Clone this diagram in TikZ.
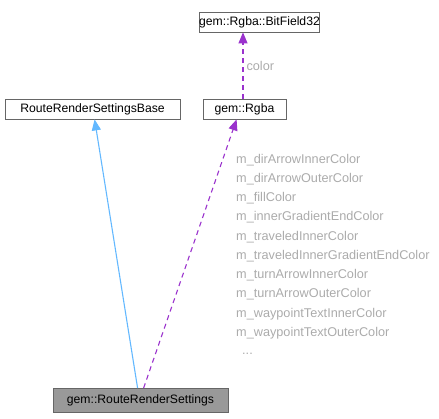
\documentclass[tikz,border=0pt]{standalone}
\usepackage{fontspec}
\setmainfont{Liberation Sans}
\usepackage{tikz}
\usetikzlibrary{arrows.meta,positioning,calc}
\usepackage{xcolor}
\definecolor{edgeblue}{HTML}{63B8FF}
\definecolor{edgepurple}{HTML}{9A32CD}
\definecolor{labelgray}{HTML}{ABABAB}
\definecolor{boxgray}{HTML}{999999}

\tikzset{
    classbox/.style={draw=black!60, fill=white, line width=0.8pt, inner sep=0pt,
        minimum height=20pt, font=\fontsize{12.2}{14}\selectfont},
    usedby/.style={edgepurple, line width=1.1pt, dash pattern=on 5pt off 4pt,
        -{Triangle[length=11pt,width=9pt]}},
    inherits/.style={edgeblue, line width=1.1pt, -{Triangle[length=11pt,width=9pt]}},
    memberlbl/.style={labelgray, anchor=west, inner sep=0pt, font=\fontsize{12.7}{14}\selectfont}
}

\begin{document}
\begin{tikzpicture}[x=1pt,y=-1pt]
    \useasboundingbox (0,0) rectangle (439,418);

    % Draw class boxes
    \node[classbox, minimum width=118pt] (bitfield) at (259.5,22) {gem::Rgba::BitField32};
    \node[classbox, minimum width=175pt] (base) at (92.5,109) {RouteRenderSettingsBase};
    \node[classbox, minimum width=83pt] (rgba) at (244.5,109) {gem::Rgba};
    \node[classbox, minimum width=175pt, minimum height=24pt, fill=boxgray] (settings) at (140.5,400.5) {gem::RouteRenderSettings};

    % Connectors
    \draw[usedby] (rgba.north -| 243,0) -- node[memberlbl, right=3pt] (colorlbl) {color} (bitfield.south -| 243,0);
    \draw[inherits] ($(settings.north west)+(85,0)$) -- ($(base.south west)+(90,0)$);
    \draw[usedby] ($(settings.north west)+(91,0)$) -- ($(rgba.south west)+(34,0)$);

    % Member labels
    \foreach \name [count=\i] in {m\_dirArrowInnerColor,m\_dirArrowOuterColor,m\_fillColor,
        m\_innerGradientEndColor,m\_traveledInnerColor,m\_traveledInnerGradientEndColor,
        m\_turnArrowInnerColor,m\_turnArrowOuterColor,m\_waypointTextInnerColor,
        m\_waypointTextOuterColor} {
        \node[memberlbl] (member\i) at (236, 140.5+19.25*\i) {\name};
    }
    \node[memberlbl] (more) at (242, 354) {...};
\end{tikzpicture}
\end{document}
